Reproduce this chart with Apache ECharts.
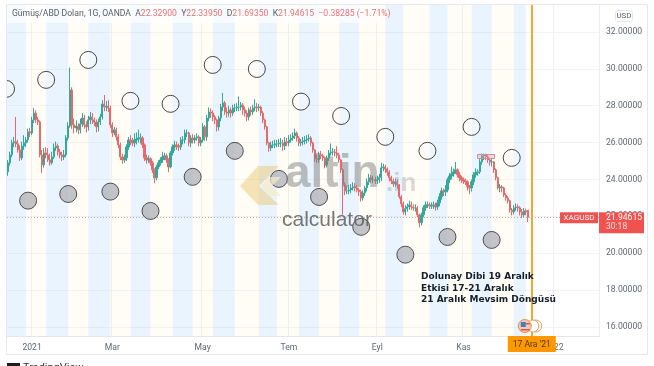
<!DOCTYPE html>
<html>
<head>
<meta charset="utf-8">
<style>html,body{margin:0;padding:0;background:#fff;overflow:hidden}#main{width:654px;height:366px}</style>
<script src="https://cdn.jsdelivr.net/npm/echarts@6/dist/echarts.min.js"></script>
</head>
<body>
<div id="main"></div>
<script>
// daily candles, first one sits on category index firstCandle
var firstCandle = 3;
var opens = [
24.41,24.90,25.33,25.98,26.04,25.93,25.60,25.17,25.82,25.98,
26.14,26.58,26.52,27.23,27.60,27.23,27.12,25.33,24.79,25.44,
25.33,25.06,24.90,25.22,25.71,25.82,25.49,25.33,25.22,25.33,
26.25,26.90,28.85,26.96,26.79,26.90,26.69,27.01,27.33,26.96,
26.85,27.23,27.39,27.23,27.12,26.85,27.12,27.39,28.09,27.93,
27.98,27.88,26.96,26.52,26.69,26.31,25.87,25.22,25.06,25.17,
25.76,26.14,26.09,25.98,26.14,26.20,26.25,26.25,25.87,25.17,
25.06,25.12,24.90,24.52,24.09,24.68,24.90,25.06,25.22,25.28,
25.06,24.68,25.44,25.76,25.87,25.82,25.76,26.14,26.14,26.52,
26.52,25.98,26.25,26.14,26.25,26.31,25.98,26.14,26.85,26.31,
27.33,27.66,27.60,27.39,27.23,26.85,27.33,27.93,28.15,27.66,
27.60,27.77,27.60,27.88,27.88,27.93,27.93,28.04,27.77,27.60,
27.39,27.77,27.66,27.88,27.93,27.88,27.93,27.60,27.23,26.85,
25.98,25.71,25.87,25.87,25.93,25.93,25.98,25.98,25.82,26.04,
25.98,26.14,26.25,26.36,26.52,26.25,25.98,26.04,26.09,26.14,
26.20,26.25,25.98,25.60,25.12,25.06,25.33,25.28,25.17,24.79,
25.17,25.44,25.49,25.49,25.44,25.33,25.06,24.52,23.71,23.38,
23.38,23.43,23.54,23.60,23.54,23.43,23.33,23.00,23.27,23.54,
23.87,24.09,23.98,23.98,23.92,23.98,24.09,24.63,24.68,24.57,
24.41,24.09,23.92,23.76,23.87,23.71,23.06,22.68,22.24,22.41,
22.51,22.62,22.51,22.46,22.46,22.08,21.65,22.08,22.46,22.62,
22.62,22.57,22.57,22.62,22.51,22.73,23.06,23.38,23.33,23.43,
23.98,24.19,24.30,24.41,24.52,24.25,24.09,23.98,23.92,23.87,
23.60,23.54,23.87,24.25,24.36,24.41,24.95,25.28,25.33,25.22,
25.06,24.95,24.95,24.52,24.09,23.54,23.60,23.54,23.16,23.00,
22.84,22.35,22.24,22.46,22.51,22.46,22.24,22.08,22.30,22.33
];
var closes = [
24.90,25.33,25.98,26.04,25.93,25.60,25.17,25.82,25.98,26.14,
26.58,26.52,27.23,27.60,27.23,27.12,25.33,24.79,25.44,25.33,
25.06,24.90,25.22,25.71,25.82,25.49,25.33,25.22,25.33,26.25,
26.90,28.85,26.96,26.79,26.90,26.69,27.01,27.33,26.96,26.85,
27.23,27.39,27.23,27.12,26.85,27.12,27.39,28.09,27.93,27.98,
27.88,26.96,26.52,26.69,26.31,25.87,25.22,25.06,25.17,25.76,
26.14,26.09,25.98,26.14,26.20,26.25,26.25,25.87,25.17,25.06,
25.12,24.90,24.52,24.09,24.68,24.90,25.06,25.22,25.28,25.06,
24.68,25.44,25.76,25.87,25.82,25.76,26.14,26.14,26.52,26.52,
25.98,26.25,26.14,26.25,26.31,25.98,26.14,26.85,26.31,27.33,
27.66,27.60,27.39,27.23,26.85,27.33,27.93,28.15,27.66,27.60,
27.77,27.60,27.88,27.88,27.93,27.93,28.04,27.77,27.60,27.39,
27.77,27.66,27.88,27.93,27.88,27.93,27.60,27.23,26.85,25.98,
25.71,25.87,25.87,25.93,25.93,25.98,25.98,25.82,26.04,25.98,
26.14,26.25,26.36,26.52,26.25,25.98,26.04,26.09,26.14,26.20,
26.25,25.98,25.60,25.12,25.06,25.33,25.28,25.17,24.79,25.17,
25.44,25.49,25.49,25.44,25.33,25.06,24.52,23.71,23.38,23.38,
23.43,23.54,23.60,23.54,23.43,23.33,23.00,23.27,23.54,23.87,
24.09,23.98,23.98,23.92,23.98,24.09,24.63,24.68,24.57,24.41,
24.09,23.92,23.76,23.87,23.71,23.06,22.68,22.24,22.41,22.51,
22.62,22.51,22.46,22.46,22.08,21.65,22.08,22.46,22.62,22.62,
22.57,22.57,22.62,22.51,22.73,23.06,23.38,23.33,23.43,23.98,
24.19,24.30,24.41,24.52,24.25,24.09,23.98,23.92,23.87,23.60,
23.54,23.87,24.25,24.36,24.41,24.95,25.28,25.33,25.22,25.06,
24.95,24.95,24.52,24.09,23.54,23.60,23.54,23.16,23.00,22.84,
22.35,22.24,22.46,22.51,22.46,22.24,22.08,22.30,22.24,21.95
];
var lows = [
24.20,24.75,25.20,25.75,25.75,25.45,25.00,25.05,25.60,25.75,
26.00,26.30,26.40,27.05,27.05,26.95,25.20,24.36,24.65,25.15,
24.95,24.75,24.80,25.10,25.55,25.30,25.15,25.00,25.05,25.20,
26.10,26.80,26.75,26.50,26.55,26.45,26.50,26.85,26.75,26.55,
26.65,27.00,27.00,26.90,26.55,26.60,26.95,27.25,27.70,27.70,
27.65,26.80,26.30,26.40,26.10,25.70,25.05,24.85,24.90,25.00,
25.60,25.85,25.80,25.75,25.90,26.00,25.95,25.70,25.00,24.85,
24.90,24.75,24.35,23.80,23.95,24.55,24.75,24.90,25.05,24.90,
24.40,24.60,25.30,25.55,25.60,25.55,25.60,25.90,25.95,26.30,
25.80,25.75,25.95,25.95,26.10,25.80,25.80,26.00,26.10,26.10,
27.15,27.35,27.15,27.00,26.60,26.65,27.15,27.70,27.50,27.35,
27.40,27.35,27.45,27.65,27.70,27.70,27.75,27.50,27.40,27.15,
27.20,27.45,27.50,27.70,27.65,27.70,27.45,27.05,26.70,25.85,
25.50,25.55,25.70,25.70,25.75,25.75,25.75,25.55,25.60,25.80,
25.80,26.00,26.10,26.20,26.05,25.80,25.80,25.85,25.90,25.95,
26.05,25.80,25.45,24.95,24.90,24.90,25.10,25.00,24.60,24.65,
25.00,25.30,25.30,25.25,25.15,24.90,24.35,22.08,23.15,23.20,
23.20,23.25,23.40,23.35,23.30,23.10,22.80,22.85,23.10,23.35,
23.70,23.80,23.80,23.75,23.75,23.80,23.90,24.45,24.35,24.20,
23.90,23.75,23.60,23.60,23.50,22.95,22.50,22.10,22.05,22.25,
22.35,22.35,22.30,22.25,21.95,21.40,21.50,21.95,22.30,22.45,
22.40,22.40,22.40,22.30,22.35,22.55,22.90,23.10,23.10,23.30,
23.80,24.00,24.15,24.30,24.10,23.90,23.80,23.75,23.70,23.40,
23.20,23.35,23.70,24.10,24.20,24.30,24.80,25.05,25.05,24.90,
24.75,24.70,24.35,23.95,23.45,23.30,23.30,23.05,22.85,22.70,
22.20,22.05,22.10,22.30,22.25,22.05,21.90,21.95,22.05,21.69
];
var highs = [
25.05,25.50,26.15,26.30,27.39,26.15,25.85,26.05,26.40,26.30,
26.75,26.80,27.40,27.88,27.75,27.40,27.20,25.60,25.70,25.75,
25.70,25.40,25.50,25.95,26.05,25.95,25.65,25.50,25.60,26.40,
27.10,30.07,29.00,27.30,27.20,27.05,27.30,27.60,27.50,27.15,
27.45,27.65,27.60,27.35,27.25,27.30,27.55,28.30,28.58,28.25,
28.30,28.00,27.10,26.85,26.80,26.45,26.00,25.40,25.35,25.90,
26.30,26.40,26.25,26.50,26.55,26.70,26.50,26.35,25.95,25.35,
25.30,25.20,25.00,24.60,24.80,25.05,25.20,25.50,25.45,25.40,
25.15,25.55,25.90,26.10,26.05,25.95,26.30,26.35,26.70,26.70,
26.60,26.40,26.45,26.40,26.50,26.40,26.30,27.05,26.95,27.50,
27.90,27.85,27.75,27.50,27.30,27.45,28.10,28.69,28.25,27.90,
28.00,27.90,28.05,28.10,28.15,28.50,28.20,28.15,27.95,27.75,
27.90,27.95,28.05,28.35,28.15,28.10,28.00,27.70,27.30,26.90,
26.05,26.05,26.10,26.15,26.15,26.20,26.25,26.15,26.30,26.25,
26.40,26.45,26.55,26.75,26.60,26.35,26.20,26.30,26.35,26.40,
26.45,26.35,26.05,25.65,25.35,25.50,25.55,25.40,25.25,25.30,
25.60,25.95,25.70,25.65,25.80,25.45,25.10,24.60,23.85,23.65,
23.70,23.75,23.85,23.80,23.70,23.55,23.45,23.40,23.65,24.05,
24.30,24.25,24.20,24.15,24.20,24.30,24.90,24.85,24.80,24.65,
24.50,24.20,24.05,24.05,24.00,23.75,23.15,22.80,22.60,22.70,
22.85,22.80,22.65,22.65,22.55,22.15,22.20,22.60,22.80,22.80,
22.75,22.75,22.80,22.75,22.90,23.25,23.55,23.50,23.70,24.10,
24.35,24.70,24.60,24.95,24.60,24.40,24.20,24.10,24.05,23.95,
23.70,24.00,24.40,24.60,24.55,25.10,25.40,25.40,25.40,25.35,
25.15,25.10,25.00,24.60,24.15,23.75,23.70,23.60,23.25,23.10,
22.90,22.45,22.60,22.70,22.65,22.55,22.40,22.45,22.42,22.34
];
// moon markers: [category index, price]
var openCircles = [[2,28.91],[22,29.40],[43,30.48],[64,28.26],[84,28.10],[105,30.21],[127,29.99],[149,28.22],[169,27.44],[191,26.31],[212,25.55],[234,26.85],[254,25.17]];
var grayCircles = [[13,22.85],[33,23.21],[54,23.34],[74,22.29],[95,24.14],[116,25.55],[138,24.03],[158,23.05],[179,21.43],[201,19.92],[222,20.88],[244,20.72]];
// alternating background cycles, from/to category index
var blueBands = [[0,12],[22,33],[43,54],[64,74],[85,95],[105,116],[128,137],[148,158],[168,178],[191,200],[213,222],[234,244],[255,261]];
var creamBands = [[12,22],[33,43],[54,64],[74,85],[95,105],[116,128],[137,148],[158,168],[178,191],[200,213],[222,234],[244,255],[261,266]];
var priceTicks = [16,18,20,22,24,26,28,30,32];
var tickLabels = {'2021-01-04':'2021','2021-03-01':'Mar','2021-05-03':'May','2021-07-01':'Tem','2021-09-01':'Eyl','2021-11-01':'Kas','2022-01-03':'2022'};
var markedDate = '2021-12-17';
var noteLines = ['Dolunay Dibi 19 Aralık','Etkisi 17-21 Aralık','21 Aralık Mevsim Döngüsü'];

// weekdays only, the axis has no weekend gaps
var categories = [];
var d = new Date(Date.UTC(2020, 11, 14));
while (categories.length < 298) {
  if (d.getUTCDay() != 0 && d.getUTCDay() != 6) categories.push(d.toISOString().slice(0, 10));
  d.setUTCDate(d.getUTCDate() + 1);
}
var candles = [];
for (var k = 0; k < firstCandle; k++) candles.push(['-', '-', '-', '-']);
opens.forEach(function (o, i) {
  candles.push([o, closes[i], lows[i], highs[i]]);
});
function hasLabel(i, v) { return v in tickLabels; }
function bandAreas(list) {
  return list.map(function (b) { return [{xAxis: b[0]}, {xAxis: b[1]}]; });
}
var lastClose = closes[closes.length - 1];
var font = 'Roboto, sans-serif';

var myChart = echarts.init(document.getElementById('main'));
var option = {
  animation: false,
  grid: {left: 1, right: 55, top: 5, bottom: 30},
  xAxis: {
    type: 'category',
    data: categories,
    axisLine: {lineStyle: {color: '#e4e6ea'}},
    axisTick: {show: false},
    axisLabel: {interval: hasLabel, formatter: function (v) { return tickLabels[v]; }, color: '#5f6873', fontFamily: font, fontSize: 8.6, margin: 7},
    splitLine: {show: true, interval: hasLabel, lineStyle: {color: '#eef0f4'}}
  },
  yAxis: {
    type: 'value',
    position: 'right',
    min: 15.51,
    max: 33.46,
    axisLine: {show: true, lineStyle: {color: '#eceef2'}},
    axisTick: {show: false, customValues: priceTicks},
    axisLabel: {customValues: priceTicks, formatter: function (v) { return v.toFixed(5); }, color: '#5f6873', fontFamily: font, fontSize: 8.6, margin: 7, padding: [2, 0, 0, 0]},
    splitLine: {show: true, lineStyle: {color: '#f1f3f6'}}
  },
  series: [
    {
      type: 'line', data: [], z: 1, silent: true,
      markArea: {silent: true, itemStyle: {color: 'rgba(187,222,251,0.33)'}, data: bandAreas(blueBands)}
    },
    {
      type: 'line', data: [], z: 1, silent: true,
      markArea: {silent: true, itemStyle: {color: 'rgba(255,245,190,0.16)'}, data: bandAreas(creamBands)}
    },
    {
      type: 'candlestick',
      data: candles,
      z: 3,
      barWidth: 1.7,
      itemStyle: {color: '#35a89b', color0: '#e8696a', borderColor: '#35a89b', borderColor0: '#e8696a', borderWidth: 1},
      markLine: {
        silent: true, symbol: 'none', animation: false, z: 2,
        label: {show: false},
        data: [
          {yAxis: lastClose, lineStyle: {color: '#cfa9a9', type: [1, 2], width: 1}},
          {xAxis: markedDate, lineStyle: {color: '#e8a93f', type: 'solid', width: 2}}
        ]
      }
    },
    {
      type: 'scatter', data: openCircles, z: 5, symbolSize: 17, clip: true,
      itemStyle: {color: 'rgba(250,250,250,0.55)', borderColor: '#1c1c1c', borderWidth: 1}
    },
    {
      type: 'scatter', data: grayCircles, z: 5, symbolSize: 17, clip: true,
      itemStyle: {color: '#b4b7bb', borderColor: '#2a2a2a', borderWidth: 1}
    }
  ]
};
myChart.setOption(option);

// overlays, tied to the scales where they mark a value
var py = myChart.convertToPixel({yAxisIndex: 0}, lastClose);
var mx = myChart.convertToPixel({xAxisIndex: 0}, markedDate);
myChart.setOption({graphic: {elements: [
  {type: 'rect', z: 20, shape: {x: 0, y: 0, width: 6, height: 366}, style: {fill: '#fff'}},
  {type: 'rect', z: 21, shape: {x: 6.5, y: 4.5, width: 641, height: 350}, style: {fill: 'none', stroke: '#e6e8ec'}},
  // legend backdrop
  {type: 'rect', z: 8, shape: {x: 7, y: 5, width: 372, height: 18}, style: {fill: 'rgba(255,255,255,0.7)'}},
  // watermark
  {type: 'polygon', z: 10, shape: {points: [[258,166],[279,166],[259,186],[279,205],[258,205],[240,186]]}, style: {fill: 'rgba(232,190,90,0.42)'}},
  {type: 'polygon', z: 10, shape: {points: [[270,177],[281,177],[272,186],[281,196],[270,196],[261,186]]}, style: {fill: 'rgba(245,235,200,0.7)'}},
  {type: 'text', z: 10, style: {x: 285, y: 197, text: 'altin', verticalAlign: 'bottom', fontFamily: 'Liberation Sans', fontWeight: 'bold', fontSize: 46, fill: 'rgba(130,130,130,0.5)'}},
  {type: 'text', z: 10, style: {x: 386, y: 197, text: '.in', verticalAlign: 'bottom', fontFamily: 'Liberation Sans', fontWeight: 'bold', fontSize: 26, fill: 'rgba(150,150,150,0.35)'}},
  {type: 'text', z: 11, style: {x: 282, y: 220, text: 'calculator', verticalAlign: 'middle', fontFamily: 'Liberation Sans', fontSize: 21, fill: 'rgba(95,95,95,0.85)'}},
  // top pivot box
  {type: 'rect', z: 6, shape: {x: 477.5, y: 154.5, width: 17, height: 4}, style: {fill: 'rgba(239,154,154,0.35)', stroke: '#c9919c'}},
  // legend line
  {type: 'text', z: 12, style: {x: 12, y: 14, verticalAlign: 'middle', fontFamily: font, fontSize: 8.6, fill: '#55616e',
    text: 'Gümüş/ABD Doları, 1G, OANDA  A{r|22.32900}  Y{r|22.33950}  D{r|21.69350}  K{r|21.94615}  {r|−0.38285 (−1.71%)}',
    rich: {r: {fill: '#e57373', fontFamily: font, fontSize: 8.6}}}},
  // currency button
  {type: 'rect', z: 12, shape: {x: 615.5, y: 10.5, width: 17, height: 11, r: 2}, style: {fill: '#fff', stroke: '#e3e5ea'}},
  {type: 'text', z: 13, style: {x: 624, y: 16, text: 'USD', align: 'center', verticalAlign: 'middle', fontFamily: font, fontSize: 8, fill: '#59626e'}},
  // last price tags
  {type: 'rect', z: 12, shape: {x: 560, y: py - 5, width: 38, height: 11}, style: {fill: '#ef5350'}},
  {type: 'text', z: 13, style: {x: 579, y: py + 0.5, text: 'XAGUSD', align: 'center', verticalAlign: 'middle', fontFamily: font, fontSize: 8, fill: '#fff'}},
  {type: 'rect', z: 12, shape: {x: 599, y: py - 5, width: 45, height: 21}, style: {fill: '#ef5350'}},
  {type: 'text', z: 13, style: {x: 606, y: py + 0.5, text: '21.94615', verticalAlign: 'middle', fontFamily: font, fontSize: 8.6, fill: '#fff'}},
  {type: 'text', z: 13, style: {x: 606, y: py + 10, text: '30:18', verticalAlign: 'middle', fontFamily: font, fontSize: 8.5, fill: '#fde0e0'}},
  // note
  {type: 'text', z: 12, style: {x: 421, y: 288.5, text: noteLines.join('\n'), verticalAlign: 'middle', fontFamily: 'DejaVu Sans', fontWeight: 'bold', fontSize: 9, lineHeight: 11.5, fill: '#15202b'}},
  // event icons at the marked date
  {type: 'circle', z: 12, shape: {cx: mx + 4, cy: 326, r: 6}, style: {fill: '#fff', stroke: '#e8a062'}},
  {type: 'circle', z: 12, shape: {cx: mx + 1, cy: 326, r: 6}, style: {fill: '#fff', stroke: '#e8a062'}},
  {type: 'circle', z: 12, shape: {cx: mx - 7, cy: 326, r: 6.5}, style: {fill: '#f3c9b8', stroke: '#e8903f'}},
  {type: 'rect', z: 13, shape: {x: mx - 11, y: 322, width: 5, height: 5}, style: {fill: '#3f7fc4'}},
  {type: 'rect', z: 13, shape: {x: mx - 6, y: 323, width: 4, height: 1.5}, style: {fill: '#d8584f'}},
  {type: 'rect', z: 13, shape: {x: mx - 11, y: 329, width: 9, height: 1.5}, style: {fill: '#d8584f'}},
  // date tag on the axis
  {type: 'rect', z: 14, shape: {x: mx - 24, y: 336, width: 48, height: 16}, style: {fill: '#ff9800'}},
  {type: 'text', z: 15, style: {x: mx, y: 344.5, text: "17 Ara '21", align: 'center', verticalAlign: 'middle', fontFamily: font, fontSize: 8.6, fill: '#4a3a1a'}},
  // logo strip
  {type: 'rect', z: 12, shape: {x: 7, y: 363, width: 13, height: 3}, style: {fill: '#1c1c1c'}},
  {type: 'text', z: 12, style: {x: 23, y: 362.5, text: 'TradingView', fontFamily: font, fontSize: 11, fill: '#333'}}
]}});
</script>
</body>
</html>
